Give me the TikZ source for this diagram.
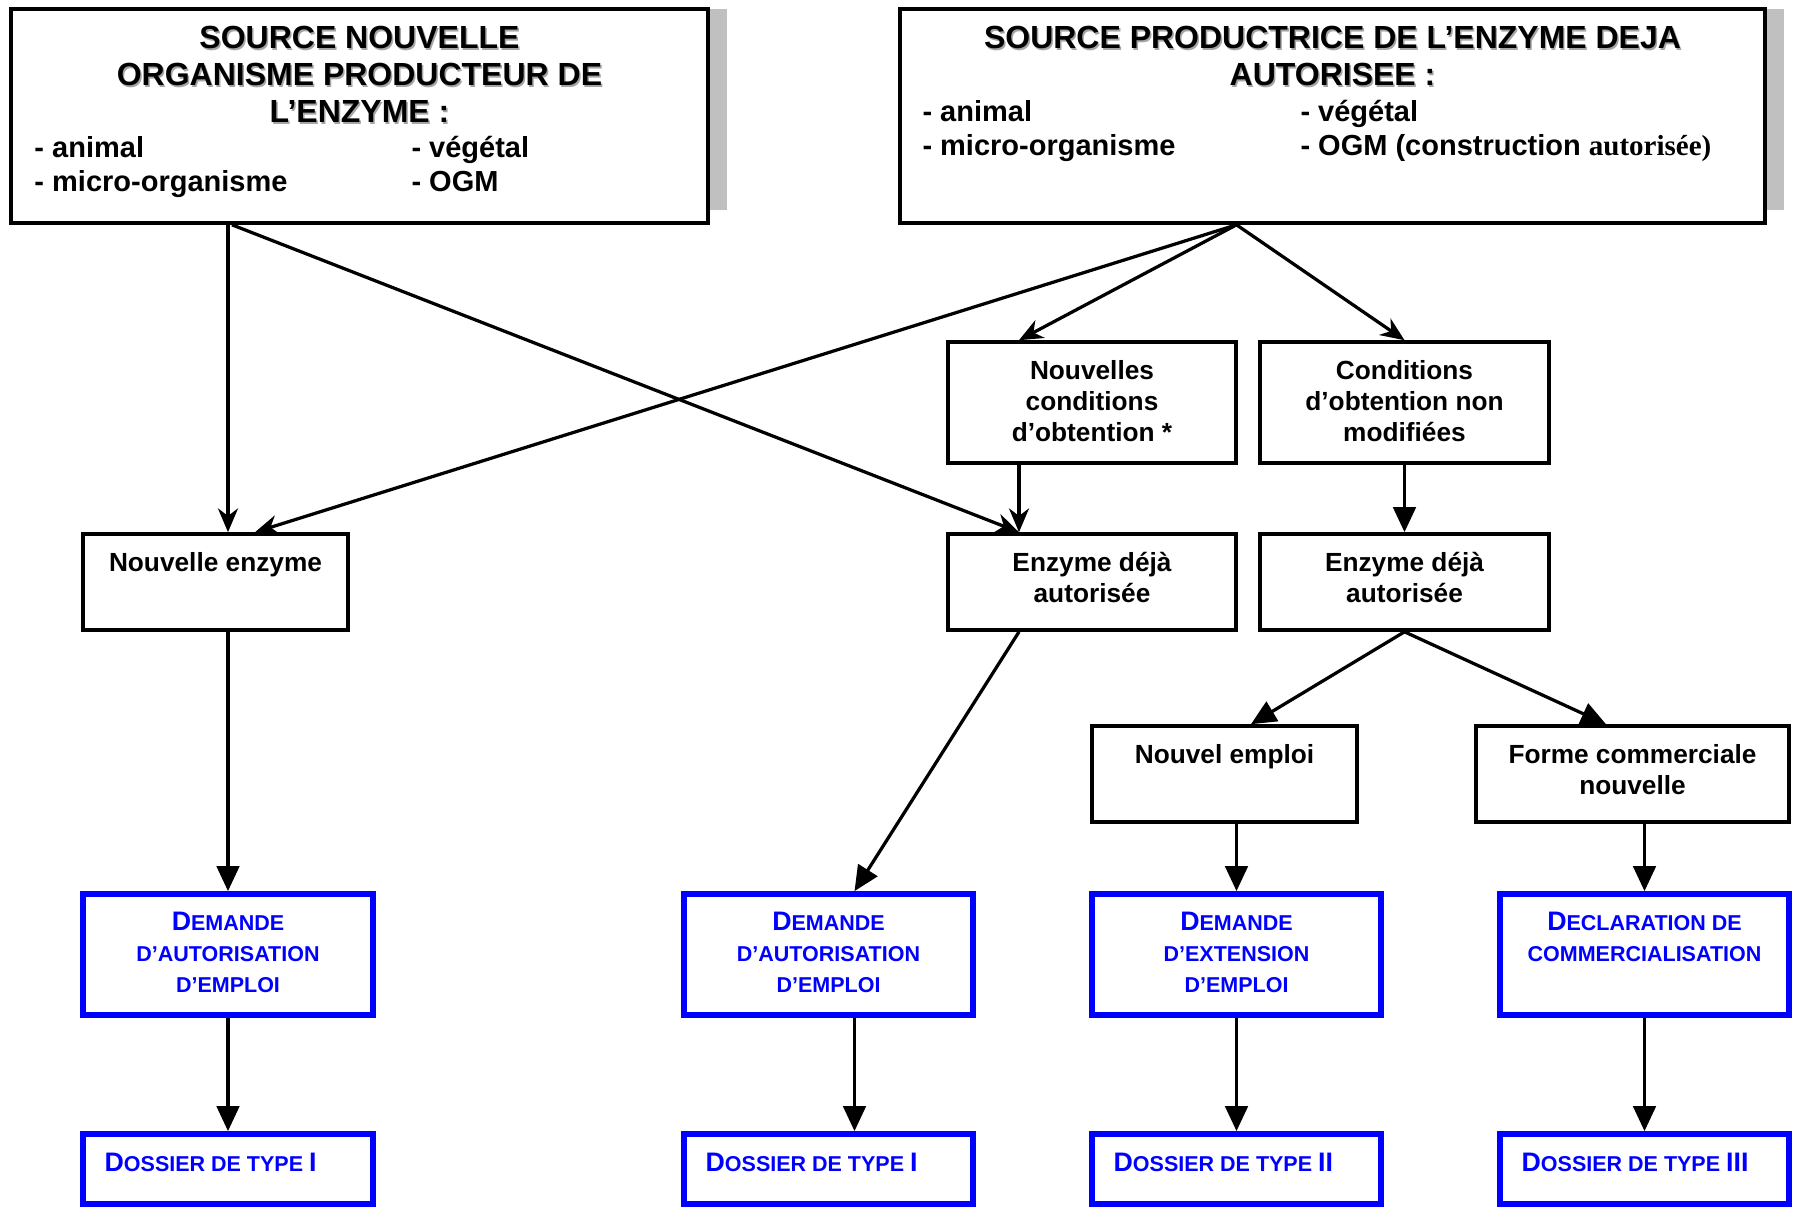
\documentclass[tikz,border=0pt]{standalone}
\usepackage{fontspec}
\setmainfont{Liberation Sans}
\newfontfamily\tnr{Liberation Serif}
\usetikzlibrary{arrows.meta}
\usetikzlibrary{calc}
\definecolor{shadgray}{RGB}{192,192,192}
\definecolor{tshadgray}{RGB}{165,165,165}
\newcommand\bigc{\fontsize{10.7}{12.4}\selectfont}
\newcommand\smc{\fontsize{8.6}{12.4}\selectfont}

\begin{document}
\begin{tikzpicture}[x=0.4pt,y=0.4pt,yscale=-1,xscale=1,
  box/.style={draw, line width=1.45pt, inner sep=0pt},
  bbox/.style={draw=blue, line width=2.3pt, inner sep=0pt},
  ttl/.style={inner sep=0pt, align=center, font=\bfseries\fontsize{12.8}{14.8}\selectfont},
  lst/.style={inner sep=0pt, align=left, font=\bfseries\fontsize{11.6}{13.6}\selectfont},
  txt/.style={inner sep=0pt, align=center, font=\bfseries\fontsize{10.5}{12.4}\selectfont},
  btxt/.style={inner sep=0pt, align=center, text=blue, font=\bfseries\bigc},
  arrS/.style={line width=1.3pt, -{Stealth[length=9.5pt,width=8pt,inset=3pt]}},
  arrT/.style={line width=1.3pt, -{Triangle[length=10pt,width=9pt]}}]
\useasboundingbox (0,0) rectangle (1800,1207);

%Shape: Shadows
\fill [shadgray] (708,9) rectangle (727,210);
\fill [shadgray] (1765,9) rectangle (1784,210);

%Shape: Rectangles
\draw (359.5,116) node [box, minimum width=278.8pt, minimum height=85.6pt, fill=white] (srcA) {};
\draw (1332.5,116) node [box, minimum width=346pt, minimum height=85.6pt, fill=white] (srcB) {};
\draw (1092,402.5) node [box, minimum width=115.2pt, minimum height=48.4pt] (ncond) {};
\draw (1404.5,402.5) node [box, minimum width=115.6pt, minimum height=48.4pt] (cnm) {};
\draw (215.5,582) node [box, minimum width=106pt, minimum height=38.4pt] (nenz) {};
\draw (1092,582) node [box, minimum width=115.2pt, minimum height=38.4pt] (eda) {};
\draw (1404.5,582) node [box, minimum width=115.6pt, minimum height=38.4pt] (edb) {};
\draw (1224.5,774) node [box, minimum width=106pt, minimum height=38.4pt] (nemp) {};
\draw (1632.5,774) node [box, minimum width=125.2pt, minimum height=38.4pt] (fcom) {};
\draw (228,954.5) node [bbox, minimum width=116pt, minimum height=48.4pt] (dae1) {};
\draw (828.5,954.5) node [bbox, minimum width=115.6pt, minimum height=48.4pt] (dae2) {};
\draw (1236.5,954.5) node [bbox, minimum width=115.6pt, minimum height=48.4pt] (dext) {};
\draw (1644.5,954.5) node [bbox, minimum width=115.6pt, minimum height=48.4pt] (decl) {};
\draw (228,1169) node [bbox, minimum width=116pt, minimum height=28pt] (dos1) {};
\draw (828.5,1169) node [bbox, minimum width=115.6pt, minimum height=28pt] (dos2) {};
\draw (1236.5,1169) node [bbox, minimum width=115.6pt, minimum height=28pt] (dos3) {};
\draw (1644.5,1169) node [bbox, minimum width=115.6pt, minimum height=28pt] (dos4) {};

\coordinate (edaIn) at ($(eda.north)+(-73,0)$);
\coordinate (dae2In) at ($(dae2.north)+(26,0)$);

%Straight Lines
\draw [arrS] (srcA.south -| dae1) -- (nenz.north -| dae1);
\draw [arrS] ($(srcA.south -| dae1)+(4,0)$) -- (edaIn);
\draw [arrS] (srcB.south -| dext) -- ($(nenz.north)+(39.5,0)$);
\draw [arrS] (srcB.south -| dext) -- (ncond.north -| edaIn);
\draw [arrS] (srcB.south -| dext) -- (cnm.north);
\draw [arrS] (ncond.south -| edaIn) -- (edaIn);
\draw [arrT] (cnm.south) -- (edb.north);
\draw [arrT] (nenz.south -| dae1) -- (dae1.north);
\draw [arrT] (eda.south -| edaIn) -- (dae2In);
\draw [arrT] (edb.south) -- ($(nemp.north)+(26.5,0)$);
\draw [arrT] (edb.south) -- ($(fcom.north)+(-26.5,0)$);
\draw [arrT] (nemp.south -| dext) -- (dext.north);
\draw [arrT] (fcom.south -| decl) -- (decl.north);
\draw [arrT] (dae1.south) -- (dos1.north);
\draw [arrT] (dae2.south -| dae2In) -- (dos2.north -| dae2In);
\draw [arrT] (dext.south) -- (dos3.north);
\draw [arrT] (decl.south) -- (dos4.north);

% Text Node
\draw (361,28) node [ttl, anchor=north, text=tshadgray] (srcA-s) {SOURCE NOUVELLE\\ORGANISME PRODUCTEUR DE\\L’ENZYME :};
\draw (359.5,26) node [ttl, anchor=north] (srcA-t) {SOURCE NOUVELLE\\ORGANISME PRODUCTEUR DE\\L’ENZYME :};
% Text Node
\draw (34,136) node [lst, anchor=north west] (srcA-l) {- animal\\- micro-organisme};
% Text Node
\draw (411,136) node [lst, anchor=north west] (srcA-r) {- végétal\\- OGM};
% Text Node
\draw (1334,28) node [ttl, anchor=north, text=tshadgray] (srcB-s) {SOURCE PRODUCTRICE DE L’ENZYME DEJA\\AUTORISEE :};
\draw (1332.5,26) node [ttl, anchor=north] (srcB-t) {SOURCE PRODUCTRICE DE L’ENZYME DEJA\\AUTORISEE :};
% Text Node
\draw (922,100) node [lst, anchor=north west] (srcB-l) {- animal\\- micro-organisme};
% Text Node
\draw (1300,100) node [lst, anchor=north west] (srcB-r) {- végétal\\- OGM (construction {\tnr\bfseries autorisée)}};
% Text Node
\draw ($(ncond.north)+(0,19.5)$) node [txt, anchor=north] (ncond-t) {Nouvelles\\conditions\\d’obtention *};
% Text Node
\draw ($(cnm.north)+(0,19.5)$) node [txt, anchor=north] (cnm-t) {Conditions\\d’obtention non\\modifiées};
% Text Node
\draw ($(nenz.north)+(0,20)$) node [txt, anchor=north] (nenz-t) {Nouvelle enzyme};
% Text Node
\draw ($(eda.north)+(0,20)$) node [txt, anchor=north] (eda-t) {Enzyme déjà\\autorisée};
% Text Node
\draw ($(edb.north)+(0,20)$) node [txt, anchor=north] (edb-t) {Enzyme déjà\\autorisée};
% Text Node
\draw ($(nemp.north)+(0,20)$) node [txt, anchor=north] (nemp-t) {Nouvel emploi};
% Text Node
\draw ($(fcom.north)+(0,20)$) node [txt, anchor=north] (fcom-t) {Forme commerciale\\nouvelle};
% Text Node
\draw ($(dae1.north)+(0,20.5)$) node [btxt, anchor=north] (dae1-t) {D{\smc EMANDE}\\{\smc D’AUTORISATION}\\{\smc D’EMPLOI}};
% Text Node
\draw ($(dae2.north)+(0,20.5)$) node [btxt, anchor=north] (dae2-t) {D{\smc EMANDE}\\{\smc D’AUTORISATION}\\{\smc D’EMPLOI}};
% Text Node
\draw ($(dext.north)+(0,20.5)$) node [btxt, anchor=north] (dext-t) {D{\smc EMANDE}\\{\smc D’EXTENSION}\\{\smc D’EMPLOI}};
% Text Node
\draw ($(decl.north)+(0,20.5)$) node [btxt, anchor=north] (decl-t) {D{\smc ECLARATION DE}\\{\smc COMMERCIALISATION}};
% Text Node
\draw ($(dos1.north west)+(24,21.5)$) node [btxt, anchor=north west] (dos1-t) {D{\smc OSSIER DE TYPE }I};
% Text Node
\draw ($(dos2.north west)+(24,21.5)$) node [btxt, anchor=north west] (dos2-t) {D{\smc OSSIER DE TYPE }I};
% Text Node
\draw ($(dos3.north west)+(24,21.5)$) node [btxt, anchor=north west] (dos3-t) {D{\smc OSSIER DE TYPE }II};
% Text Node
\draw ($(dos4.north west)+(24,21.5)$) node [btxt, anchor=north west] (dos4-t) {D{\smc OSSIER DE TYPE }III};

\end{tikzpicture}
\end{document}
